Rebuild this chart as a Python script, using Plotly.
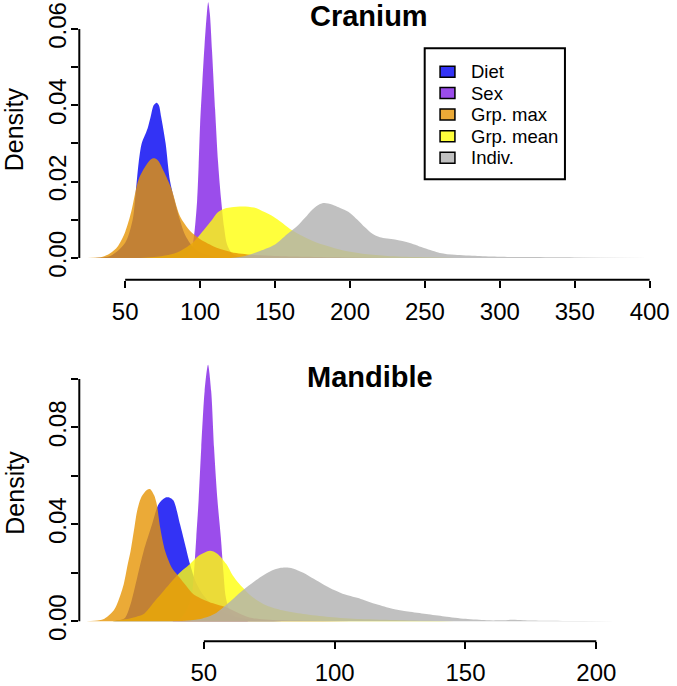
import plotly.graph_objects as go

W, H = 677, 686

# ---------------- data ----------------
series_names = ["Diet", "Sex", "Grp. max", "Grp. mean", "Indiv."]

# Cranium panel
cran_diet_x = [30, 40, 50, 55, 57, 59, 61, 63, 65, 67, 69, 71, 72.5, 74, 77, 80, 85, 90, 95, 100, 110, 120]
cran_diet_y = [0, 0.0005, 0.004, 0.010, 0.017, 0.025, 0.030, 0.032, 0.034, 0.037, 0.040, 0.0407, 0.040, 0.037, 0.030, 0.020, 0.012, 0.006, 0.003, 0.0015, 0.0003, 0]

cran_sex_x = [85, 90, 94, 96, 98, 99, 100, 101.5, 103, 104.5, 105.4, 106.5, 108, 110, 112, 114, 116, 118, 121, 126, 130]
cran_sex_y = [0, 0.0005, 0.002, 0.006, 0.015, 0.024, 0.035, 0.046, 0.056, 0.064, 0.067, 0.064, 0.054, 0.039, 0.025, 0.0154, 0.008, 0.0035, 0.0013, 0.0002, 0]

cran_gmax_x = [25, 35, 40, 45, 50, 54, 59, 63.5, 67, 69.5, 72, 76, 81, 86.5, 94, 103, 112, 121, 135, 150, 170, 200, 230]
cran_gmax_y = [0, 0.0003, 0.0012, 0.003, 0.0068, 0.012, 0.0206, 0.024, 0.0258, 0.0261, 0.0255, 0.0225, 0.018, 0.011, 0.0068, 0.0042, 0.0025, 0.0015, 0.0008, 0.0005, 0.0003, 0.0001, 0]

cran_gmean_x = [60, 75, 85, 95, 103, 108, 112, 117, 121, 128.5, 136, 143, 149, 154, 160, 168, 176, 185, 195, 210, 225, 245, 270]
cran_gmean_y = [0, 0.0005, 0.0015, 0.004, 0.0076, 0.0100, 0.012, 0.013, 0.0133, 0.0135, 0.0132, 0.012, 0.0108, 0.0094, 0.0076, 0.0058, 0.0043, 0.0031, 0.0020, 0.0010, 0.0005, 0.0002, 0]

cran_indiv_x = [120, 130, 140, 150, 158, 165, 170, 175, 180, 183, 188, 195, 200, 205, 210, 215, 220, 230, 240, 250, 260, 270, 285, 300, 320, 350, 400]
cran_indiv_y = [0, 0.0005, 0.0018, 0.0035, 0.0062, 0.0084, 0.0105, 0.0127, 0.0141, 0.0144, 0.0140, 0.0128, 0.0118, 0.0100, 0.0080, 0.0063, 0.0054, 0.0048, 0.0039, 0.0025, 0.0013, 0.0008, 0.0005, 0.0003, 0.0002, 0.0001, 0]

# Mandible panel
mand_diet_x = [15, 18, 20, 22, 24.5, 27, 30.2, 32.7, 35.2, 37, 38.4, 40.9, 42.8, 44.7, 47, 50, 54, 60, 68, 80]
mand_diet_y = [0, 0.0005, 0.0016, 0.0071, 0.018, 0.029, 0.040, 0.0483, 0.051, 0.051, 0.0498, 0.040, 0.0318, 0.0236, 0.016, 0.0105, 0.006, 0.0025, 0.0008, 0]

mand_sex_x = [38, 41, 43, 45.2, 46.2, 47.1, 48, 49, 50.3, 51.6, 52.8, 53.9, 55.2, 56.5, 57.5, 58.4, 60, 63, 67]
mand_sex_y = [0, 0.001, 0.004, 0.0099, 0.020, 0.0346, 0.050, 0.0716, 0.095, 0.1059, 0.095, 0.0716, 0.050, 0.0346, 0.020, 0.0099, 0.004, 0.001, 0]

mand_gmax_x = [5, 10, 12, 15.6, 17.5, 19.4, 21, 22, 23.5, 24.5, 26, 28, 29.5, 31, 32, 33.3, 35.2, 37.7, 39.6, 43, 46, 52, 58.5, 63, 67.4, 75, 90, 110]
mand_gmax_y = [0, 0.0004, 0.001, 0.0045, 0.009, 0.0154, 0.024, 0.029, 0.039, 0.0456, 0.051, 0.054, 0.0545, 0.052, 0.0483, 0.0387, 0.029, 0.0222, 0.0195, 0.015, 0.0112, 0.0080, 0.0058, 0.0035, 0.0016, 0.0006, 0.0002, 0]

mand_gmean_x = [15, 20, 24, 27, 31, 35, 40.3, 44.7, 48, 52.3, 55, 58.6, 61, 63.6, 68.7, 74, 80, 88, 98, 110, 125, 140, 155]
mand_gmean_y = [0, 0.0008, 0.0018, 0.003, 0.008, 0.013, 0.0195, 0.0236, 0.027, 0.0291, 0.028, 0.0236, 0.019, 0.0154, 0.0099, 0.0065, 0.0045, 0.0030, 0.0018, 0.0009, 0.0004, 0.0001, 0]

mand_indiv_x = [40, 48, 54, 60.5, 64, 68, 72, 76, 79, 81.3, 84, 88, 92, 96, 100, 104, 110, 116, 122, 128, 135, 142, 150, 158, 164, 168, 172, 180, 195, 220]
mand_indiv_y = [0, 0.0008, 0.003, 0.0086, 0.012, 0.0154, 0.0185, 0.021, 0.0220, 0.0222, 0.0218, 0.0200, 0.0175, 0.0150, 0.0128, 0.0110, 0.0092, 0.0070, 0.0052, 0.0040, 0.0030, 0.0020, 0.0010, 0.0004, 0.0004, 0.0006, 0.0004, 0.0002, 0.0001, 0]

cran_xticks = [50, 100, 150, 200, 250, 300, 350, 400]
cran_yticks = [0, 0.01, 0.02, 0.03, 0.04, 0.05, 0.06]
cran_ylabels = ["0.00", "", "0.02", "", "0.04", "", "0.06"]
mand_xticks = [50, 100, 150, 200]
mand_yticks = [0, 0.02, 0.04, 0.06, 0.08, 0.10]
mand_ylabels = ["0.00", "", "0.04", "", "0.08", ""]

# ---------------- styling ----------------
colors = {
    "Diet": "rgba(0,0,242,0.8)",
    "Sex": "rgba(130,32,230,0.8)",
    "Grp. max": "rgba(230,149,5,0.8)",
    "Grp. mean": "rgba(255,255,11,0.8)",
    "Indiv.": "rgba(176,176,176,0.8)",
}
FONT = "Liberation Sans, Arial, Helvetica, sans-serif"

def px_x(p):
    return p / W

def px_y(p):
    return 1 - p / H

fig = go.Figure()

draw_order = ["Diet", "Sex", "Grp. mean", "Grp. max", "Indiv."]
cran = {
    "Diet": (cran_diet_x, cran_diet_y),
    "Sex": (cran_sex_x, cran_sex_y),
    "Grp. max": (cran_gmax_x, cran_gmax_y),
    "Grp. mean": (cran_gmean_x, cran_gmean_y),
    "Indiv.": (cran_indiv_x, cran_indiv_y),
}
mand = {
    "Diet": (mand_diet_x, mand_diet_y),
    "Sex": (mand_sex_x, mand_sex_y),
    "Grp. max": (mand_gmax_x, mand_gmax_y),
    "Grp. mean": (mand_gmean_x, mand_gmean_y),
    "Indiv.": (mand_indiv_x, mand_indiv_y),
}

for name in draw_order:
    xs, ys = cran[name]
    fig.add_trace(go.Scatter(x=xs, y=ys, mode="lines", fill="tozeroy",
                             fillcolor=colors[name], line=dict(width=0, shape="spline", smoothing=0.8),
                             name=name, showlegend=False, xaxis="x", yaxis="y", hoverinfo="skip"))
for name in draw_order:
    xs, ys = mand[name]
    fig.add_trace(go.Scatter(x=xs, y=ys, mode="lines", fill="tozeroy",
                             fillcolor=colors[name], line=dict(width=0, shape="spline", smoothing=0.8),
                             name=name, showlegend=False, xaxis="x2", yaxis="y2", hoverinfo="skip"))

tickfont = dict(family=FONT, size=24, color="black")
common_x = dict(showgrid=False, zeroline=False, showline=False, ticks="outside", ticklen=7,
                tickwidth=2, tickcolor="black", tickfont=tickfont, ticklabelstandoff=3)
common_y = dict(showgrid=False, zeroline=False, showline=False, ticks="outside", ticklen=7,
                tickwidth=2, tickcolor="black", tickfont=tickfont, tickangle=-90, ticklabelstandoff=-4)

fig.update_layout(
    width=W, height=H, margin=dict(l=0, r=0, t=0, b=0),
    paper_bgcolor="white", plot_bgcolor="white",
    xaxis=dict(domain=[px_x(80), px_x(670)], range=[19.38, 409.6], anchor="y",
               tickvals=cran_xticks, ticktext=[str(v) for v in cran_xticks], **common_x),
    yaxis=dict(domain=[px_y(281), px_y(0)], range=[-0.00574, 0.06762], anchor="x",
               tickvals=cran_yticks, ticktext=cran_ylabels, **common_y),
    xaxis2=dict(domain=[px_x(80), px_x(670)], range=[2.39, 225.9], anchor="y2",
                tickvals=mand_xticks, ticktext=[str(v) for v in mand_xticks], **common_x),
    yaxis2=dict(domain=[px_y(644), px_y(362)], range=[-0.00822, 0.10764], anchor="x2",
                tickvals=mand_yticks, ticktext=mand_ylabels, **common_y),
)

line = dict(color="black", width=2)
shapes = [
    dict(type="line", xref="x", yref="y domain", x0=cran_xticks[0], x1=cran_xticks[-1], y0=0, y1=0, line=line),
    dict(type="line", xref="x domain", yref="y", x0=0, x1=0, y0=cran_yticks[0], y1=cran_yticks[-1], line=line),
    dict(type="line", xref="x2", yref="y2 domain", x0=mand_xticks[0], x1=mand_xticks[-1], y0=0, y1=0, line=line),
    dict(type="line", xref="x2 domain", yref="y2", x0=0, x1=0, y0=mand_yticks[0], y1=mand_yticks[-1], line=line),
    # legend box
    dict(type="rect", xref="paper", yref="paper", x0=px_x(428.5), x1=px_x(570), y0=px_y(180), y1=px_y(48.5),
         line=dict(color="black", width=2), fillcolor="white", layer="above"),
]

annotations = [
    dict(text="<b>Cranium</b>", x=px_x(372.5), y=px_y(16), xref="paper", yref="paper",
         showarrow=False, xanchor="center", yanchor="middle", font=dict(family=FONT, size=29, color="black")),
    dict(text="<b>Mandible</b>", x=px_x(373), y=px_y(379), xref="paper", yref="paper",
         showarrow=False, xanchor="center", yanchor="middle", font=dict(family=FONT, size=29, color="black")),
    dict(text="Density", x=px_x(15), y=px_y(130), xref="paper", yref="paper", textangle=-90,
         showarrow=False, xanchor="center", yanchor="middle", font=dict(family=FONT, size=25, color="black")),
    dict(text="Density", x=px_x(15), y=px_y(495), xref="paper", yref="paper", textangle=-90,
         showarrow=False, xanchor="center", yanchor="middle", font=dict(family=FONT, size=25, color="black")),
]

row_y = [72, 93.5, 115, 136.8, 158.5]
for name, ry in zip(series_names, row_y):
    shapes.append(dict(type="rect", xref="paper", yref="paper", x0=px_x(444), x1=px_x(459),
                       y0=px_y(ry + 5.5), y1=px_y(ry - 5.5), line=dict(color="black", width=1.5),
                       fillcolor=colors[name], layer="above"))
    annotations.append(dict(text=name, x=px_x(473), y=px_y(ry), xref="paper", yref="paper",
                            showarrow=False, xanchor="left", yanchor="middle",
                            font=dict(family=FONT, size=18.5, color="black")))

fig.update_layout(shapes=shapes, annotations=annotations)
fig.write_html("out.html", config={"displayModeBar": False},
               post_script="document.body.style.margin='0';document.body.style.overflow='hidden';")
